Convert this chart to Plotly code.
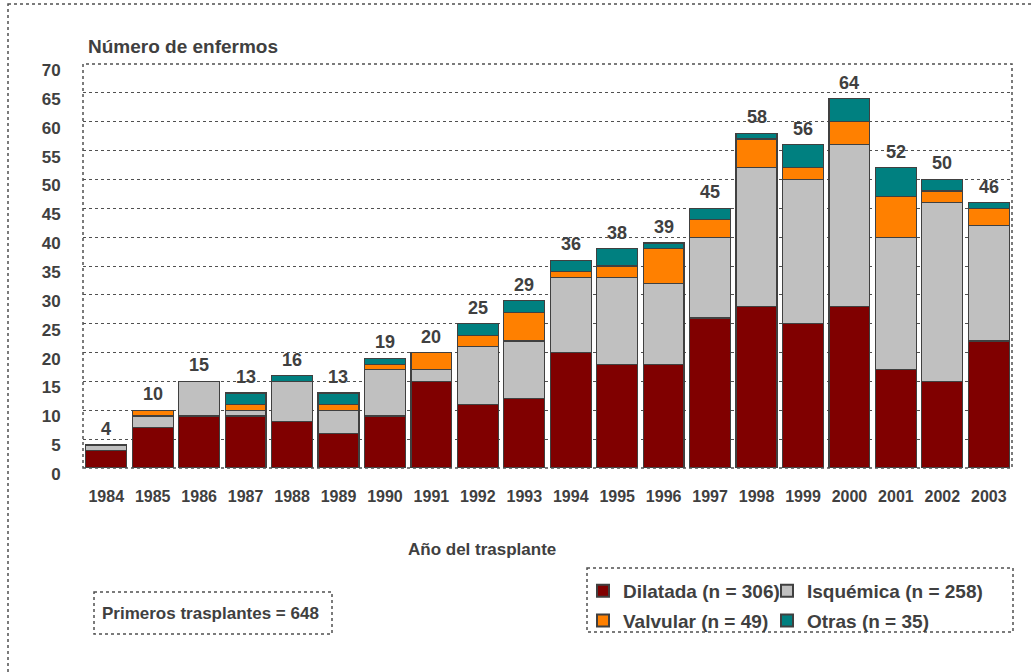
import plotly.graph_objects as go

# === データ ===
years = [str(y) for y in range(1984, 2004)]
dilatada = [3, 7, 9, 9, 8, 6, 9, 15, 11, 12, 20, 18, 18, 26, 28, 25, 28, 17, 15, 22]
isquemica = [1, 2, 6, 1, 7, 4, 8, 2, 10, 10, 13, 15, 14, 14, 24, 25, 28, 23, 31, 20]
valvular = [0, 1, 0, 1, 0, 1, 1, 3, 2, 5, 1, 2, 6, 3, 5, 2, 4, 7, 2, 3]
otras = [0, 0, 0, 2, 1, 2, 1, 0, 2, 2, 2, 3, 1, 2, 1, 4, 4, 5, 2, 1]
y_ticks = list(range(0, 75, 5))

series = [
    ("Dilatada (n = 306)", dilatada, "#800000", "legend"),
    ("Isquémica (n = 258)", isquemica, "#C0C0C0", "legend2"),
    ("Valvular (n = 49)", valvular, "#FF8000", "legend"),
    ("Otras (n = 35)", otras, "#008080", "legend2"),
]
totals = [sum(v) for v in zip(dilatada, isquemica, valvular, otras)]

FONT = "Liberation Sans, Arial, sans-serif"
TXT = "#404040"
GRID = "#505050"

# 画面上の配置(px)から paper 座標へ
W, H = 1031, 672
L, R, T, B = 83, 19, 64, 204
PW, PH = W - L - R, H - T - B


def px_x(p):
    return (p - L) / PW


def px_y(p):
    return (H - B - p) / PH


def f(size):
    return dict(family=FONT, size=size, color=TXT, weight="bold")


fig = go.Figure()
for name, vals, color, leg in series:
    fig.add_trace(
        go.Bar(
            x=years,
            y=vals,
            name=name,
            legendgroup=name,
            marker=dict(color=color, line=dict(color="#404040", width=1.2)),
            legend=leg,
        )
    )

# 合計ラベル (カテゴリ番号で配置)
for i, tot in enumerate(totals):
    fig.add_annotation(
        x=i, y=tot, text=str(tot), showarrow=False, yanchor="bottom", yshift=4,
        font=f(18),
    )

fig.add_annotation(
    x=px_x(86), y=px_y(47), xref="paper", yref="paper", text="Número de enfermos",
    showarrow=False, xanchor="left", yanchor="middle", font=f(19),
)
fig.add_annotation(
    x=px_x(482), y=px_y(549), xref="paper", yref="paper", text="Año del trasplante",
    showarrow=False, xanchor="center", yanchor="middle", font=f(17),
)
fig.add_annotation(
    x=px_x(100), y=px_y(613), xref="paper", yref="paper", text="Primeros trasplantes = 648",
    showarrow=False, xanchor="left", yanchor="middle", font=f(17),
)

dotted = dict(color="#505050", width=1.5, dash="dot")
# 外枠・プロット枠・ボックス
fig.add_shape(type="rect", xref="paper", yref="paper",
              x0=px_x(8), x1=px_x(1045), y0=px_y(4), y1=px_y(690), line=dotted, layer="below")
fig.add_shape(type="rect", xref="paper", yref="paper",
              x0=0, x1=1, y0=0, y1=1, line=dotted)
fig.add_shape(type="rect", xref="paper", yref="paper",
              x0=px_x(94), x1=px_x(332), y0=px_y(592), y1=px_y(634), line=dotted)
fig.add_shape(type="rect", xref="paper", yref="paper",
              x0=px_x(587), x1=px_x(1013), y0=px_y(568), y1=px_y(632), line=dotted)

leg_common = dict(
    orientation="v", xanchor="left", yanchor="top", bgcolor="rgba(0,0,0,0)",
    borderwidth=0, tracegroupgap=2, traceorder="grouped",
    font=f(19), itemsizing="constant",
)

fig.update_layout(
    width=W, height=H,
    barmode="stack",
    bargap=0.12,
    plot_bgcolor="white",
    paper_bgcolor="white",
    margin=dict(l=L, r=R, t=T, b=B),
    font=f(18),
    legend=dict(x=px_x(583), y=px_y(572), **leg_common),
    legend2=dict(x=px_x(767), y=px_y(572), **leg_common),
    xaxis=dict(
        type="category", showgrid=False, showline=False, zeroline=False,
        ticks="outside", ticklen=14, tickcolor="rgba(0,0,0,0)",
        tickfont=f(16),
    ),
    yaxis=dict(
        range=[0, 70], tickvals=y_ticks, showline=False, zeroline=False,
        showgrid=True, gridcolor=GRID, griddash="dot", gridwidth=1,
        ticks="outside", ticklen=18, tickcolor="rgba(0,0,0,0)",
        ticklabelshift=6,
        tickfont=f(17),
    ),
)

# ページ既定の余白を消して図を左上に合わせる
fig.write_html(
    "out.html",
    config={"displayModeBar": False},
    post_script="document.body.style.margin='0';",
)
